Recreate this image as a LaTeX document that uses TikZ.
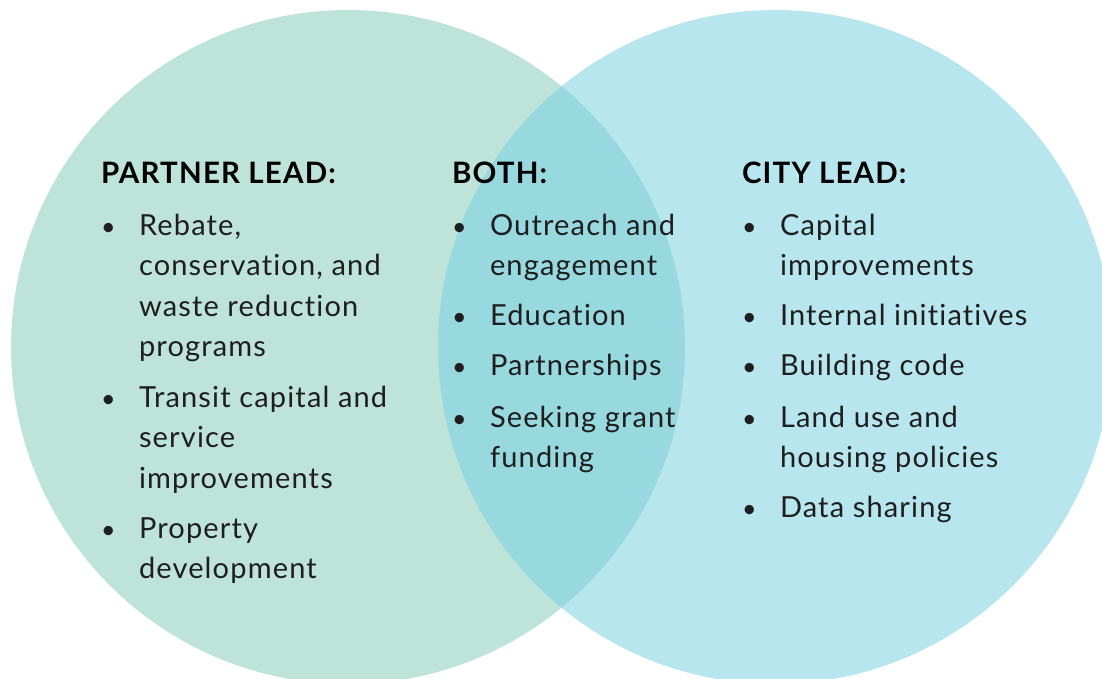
\documentclass[tikz,border=0pt]{standalone}
\usepackage{fontspec}
\setmainfont{Lato}[LetterSpace=4,Ligatures=NoCommon]
\usetikzlibrary{positioning}
\definecolor{partnerfill}{HTML}{BEE3D8}
\definecolor{cityfill}{HTML}{B8E6EE}
\definecolor{bothfill}{HTML}{98D8DF}
\definecolor{inkdark}{HTML}{1E1E1E}
\begin{document}
\begin{tikzpicture}[x=1pt,y=1pt,inner sep=0pt,outer sep=0pt,
head/.style={anchor=base west,text=black,font={\fontsize{29.5}{34}\selectfont\bfseries}},
itm/.style={anchor=base west,align=left,text=inkdark,font={\fontsize{29}{40.5}\selectfont}},
bul/.style={anchor=base west,text=inkdark,font={\fontsize{25}{40.5}\selectfont}}]
\useasboundingbox (0,0) rectangle (1102,-679);
% the two circles and their overlap
\fill[partnerfill] (348,-347) circle (337);
\fill[cityfill] (775,-347) circle (337);
\begin{scope}
\clip (348,-347) circle (337);
\fill[bothfill] (775,-347) circle (337);
\end{scope}
% partner lead (items sit on their last baseline)
\node[head] (partner) at (101,-183) {PARTNER LEAD:};
\node[bul] (pb1) at (101,-235) {\textbullet};
\node[itm] (p1) at (139,-356.5) {Rebate,\\conservation, and\\waste reduction\\programs};
\node[bul] (pb2) at (101,-407) {\textbullet};
\node[itm] (p2) at (139,-488) {Transit capital and\\service\\improvements};
\node[bul] (pb3) at (101,-538) {\textbullet};
\node[itm] (p3) at (139,-578.5) {Property\\development};
% both
\node[head] (both) at (452,-183) {BOTH:};
\node[bul] (bb1) at (452,-235) {\textbullet};
\node[itm] (b1) at (490,-275.5) {Outreach and\\engagement};
\node[bul] (bb2) at (452,-325) {\textbullet};
\node[itm] (b2) at (490,-325) {Education};
\node[bul] (bb3) at (452,-375) {\textbullet};
\node[itm] (b3) at (490,-375) {Partnerships};
\node[bul] (bb4) at (452,-427) {\textbullet};
\node[itm] (b4) at (490,-467.5) {Seeking grant\\funding};
% city lead
\node[head] (city) at (742,-183) {CITY LEAD:};
\node[bul] (cb1) at (742,-235) {\textbullet};
\node[itm] (c1) at (780,-275.5) {Capital\\improvements};
\node[bul] (cb2) at (742,-325) {\textbullet};
\node[itm] (c2) at (780,-325) {Internal initiatives};
\node[bul] (cb3) at (742,-375) {\textbullet};
\node[itm] (c3) at (780,-375) {Building code};
\node[bul] (cb4) at (742,-427) {\textbullet};
\node[itm] (c4) at (780,-467.5) {Land use and\\housing policies};
\node[bul] (cb5) at (742,-517) {\textbullet};
\node[itm] (c5) at (780,-517) {Data sharing};
\end{tikzpicture}
\end{document}
